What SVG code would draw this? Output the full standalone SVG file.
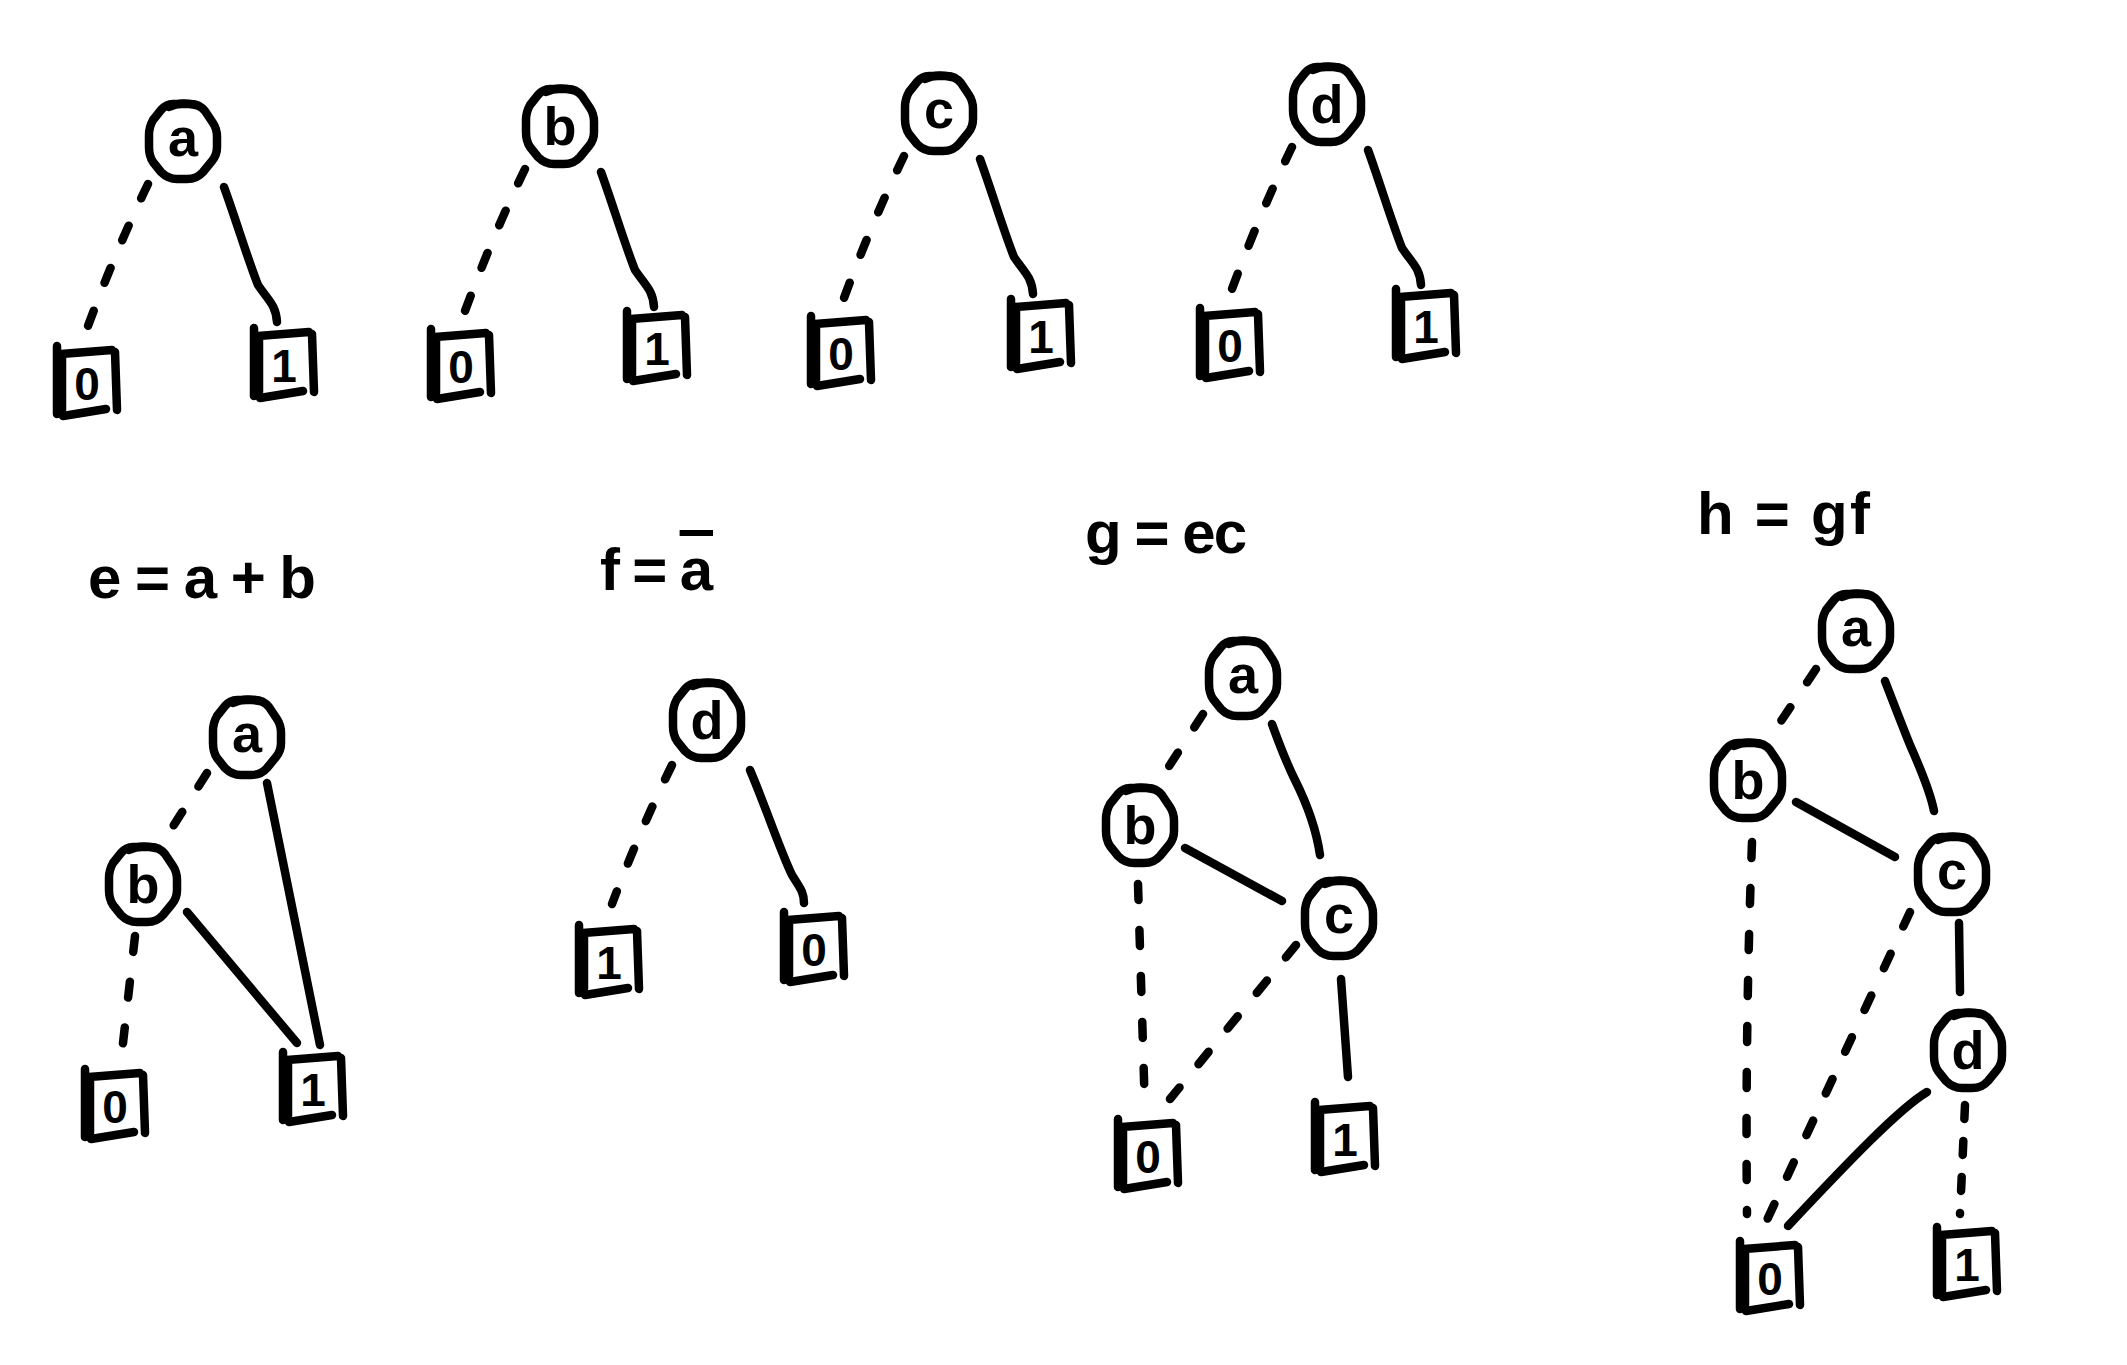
<svg xmlns="http://www.w3.org/2000/svg" xmlns:xlink="http://www.w3.org/1999/xlink" width="2127" height="1365" viewBox="0 0 2127 1365">
<style>
.ln{fill:none;stroke:#000;stroke-width:8.5;stroke-linecap:round;stroke-linejoin:round}
.dash{stroke-dasharray:16 30}
.dash2{stroke-dasharray:14 22}
.nodeShape{fill:#fff;stroke:#000;stroke-width:8.5;stroke-linecap:round;stroke-linejoin:round}
.boxShape{fill:none;stroke:#000;stroke-width:8.5;stroke-linecap:round;stroke-linejoin:round}
.var{font-family:"Liberation Sans",Arial,sans-serif;font-weight:bold;font-size:54px;fill:#000;text-anchor:middle}
.dig{font-family:"Liberation Sans",Arial,sans-serif;font-weight:bold;font-size:46px;fill:#000;text-anchor:middle}
.eq{font-family:"Liberation Sans",Arial,sans-serif;font-weight:bold;font-size:60px;fill:#000}
</style>
<defs>
<g id="oct">
<path class="nodeShape" d="M-10,-37 L8,-37 Q16,-37 22,-30 L30,-18 Q34,-12 34,-4 L34,6 Q34,14 29,20 L20,31 Q14,38 4,38 L-6,38 Q-15,38 -22,31 L-30,21 Q-34,15 -34,6 L-34,-6 Q-34,-14 -30,-21 L-22,-31 Q-17,-37 -10,-37 Z"/>
<path class="boxShape" d="M-14,-34 Q-2,-40 12,-36"/>
</g>
<path id="box" class="boxShape" d="M0,-6 L0,62 M4,2 L55,-2 M58,0 L60,58 M6,64 L49,57 M5,4 L5,58"/>
</defs>

<g id="connectors">
<!-- top row: a -->
<path class="ln dash" d="M148,184 Q116,250 88,326"/>
<path class="ln" d="M224,187 C236,220 248,260 258,285 C268,300 276,305 277,322"/>
<!-- top row: b -->
<path class="ln dash" d="M525,169 Q493,235 465,311"/>
<path class="ln" d="M601,172 C613,205 625,245 635,270 C645,285 653,290 654,307"/>
<!-- top row: c -->
<path class="ln dash" d="M904,156 Q872,222 844,298"/>
<path class="ln" d="M980,159 C992,192 1004,232 1014,257 C1024,272 1032,277 1033,294"/>
<!-- top row: d -->
<path class="ln dash" d="M1292,147 Q1260,213 1232,289"/>
<path class="ln" d="M1368,150 C1380,183 1392,223 1402,248 C1412,263 1420,268 1421,285"/>
<!-- e -->
<path class="ln dash" d="M207,773 L165,839"/>
<path class="ln" d="M267,783 L320,1045"/>
<path class="ln" d="M187,912 L297,1043"/>
<path class="ln dash" d="M135,936 L121,1061"/>
<!-- f -->
<path class="ln dash" d="M672,765 Q640,830 612,904"/>
<path class="ln" d="M750,770 C765,805 780,850 792,875 C800,888 804,892 804,903"/>
<!-- g -->
<path class="ln dash" d="M1203,714 L1162,777"/>
<path class="ln" d="M1272,724 Q1285,760 1295,780 Q1315,820 1320,855"/>
<path class="ln" d="M1185,848 L1282,901"/>
<path class="ln dash" d="M1138,884 L1145,1111"/>
<path class="ln dash" d="M1296,945 L1170,1099"/>
<path class="ln" d="M1341,979 L1348,1077"/>
<!-- h -->
<path class="ln dash" d="M1816,669 L1773,733"/>
<path class="ln" d="M1885,681 Q1900,720 1910,745 Q1930,790 1934,811"/>
<path class="ln" d="M1796,802 L1895,857"/>
<path class="ln dash" d="M1752,842 Q1745,1030 1747,1214"/>
<path class="ln dash" d="M1910,912 L1767,1220"/>
<path class="ln" d="M1959,923 L1960,992"/>
<path class="ln" d="M1927,1092 C1900,1108 1850,1160 1788,1226"/>
<path class="ln dash2" d="M1965,1105 L1960,1214"/>
</g>

<!-- top row nodes -->
<g id="t1-a" transform="translate(183,141)"><use xlink:href="#oct" href="#oct"/><text class="var" x="0" y="15">a</text></g>
<g id="t1-0" transform="translate(57,352)"><use xlink:href="#box" href="#box"/><text class="dig" x="30" y="48">0</text></g>
<g id="t1-1" transform="translate(254,334)"><use xlink:href="#box" href="#box"/><text class="dig" x="30" y="48">1</text></g>

<g id="t2-b" transform="translate(560,126)"><use xlink:href="#oct" href="#oct"/><text class="var" x="0" y="19">b</text></g>
<g id="t2-0" transform="translate(431,335)"><use xlink:href="#box" href="#box"/><text class="dig" x="30" y="48">0</text></g>
<g id="t2-1" transform="translate(627,317)"><use xlink:href="#box" href="#box"/><text class="dig" x="30" y="48">1</text></g>

<g id="t3-c" transform="translate(939,113)"><use xlink:href="#oct" href="#oct"/><text class="var" x="0" y="15">c</text></g>
<g id="t3-0" transform="translate(811,322)"><use xlink:href="#box" href="#box"/><text class="dig" x="30" y="48">0</text></g>
<g id="t3-1" transform="translate(1011,305)"><use xlink:href="#box" href="#box"/><text class="dig" x="30" y="48">1</text></g>

<g id="t4-d" transform="translate(1327,104)"><use xlink:href="#oct" href="#oct"/><text class="var" x="0" y="19">d</text></g>
<g id="t4-0" transform="translate(1200,314)"><use xlink:href="#box" href="#box"/><text class="dig" x="30" y="48">0</text></g>
<g id="t4-1" transform="translate(1396,295)"><use xlink:href="#box" href="#box"/><text class="dig" x="30" y="48">1</text></g>

<!-- labels -->
<g id="label-e"><text class="eq" x="88" y="598" textLength="228" lengthAdjust="spacing">e = a + b</text></g>
<g id="label-f"><text class="eq" x="600" y="590" textLength="113" lengthAdjust="spacing">f = <tspan text-decoration="overline">a</tspan></text></g>
<g id="label-g"><text class="eq" x="1085" y="553" textLength="162" lengthAdjust="spacing">g = ec</text></g>
<g id="label-h"><text class="eq" x="1697" y="534" textLength="173" lengthAdjust="spacing">h = gf</text></g>

<!-- e -->
<g id="e-a" transform="translate(247,737)"><use xlink:href="#oct" href="#oct"/><text class="var" x="0" y="15">a</text></g>
<g id="e-b" transform="translate(143,884)"><use xlink:href="#oct" href="#oct"/><text class="var" x="0" y="19">b</text></g>
<g id="e-0" transform="translate(85,1075)"><use xlink:href="#box" href="#box"/><text class="dig" x="30" y="48">0</text></g>
<g id="e-1" transform="translate(283,1058)"><use xlink:href="#box" href="#box"/><text class="dig" x="30" y="48">1</text></g>

<!-- f -->
<g id="f-d" transform="translate(707,720)"><use xlink:href="#oct" href="#oct"/><text class="var" x="0" y="19">d</text></g>
<g id="f-1" transform="translate(579,931)"><use xlink:href="#box" href="#box"/><text class="dig" x="30" y="48">1</text></g>
<g id="f-0" transform="translate(784,918)"><use xlink:href="#box" href="#box"/><text class="dig" x="30" y="48">0</text></g>

<!-- g -->
<g id="g-a" transform="translate(1243,678)"><use xlink:href="#oct" href="#oct"/><text class="var" x="0" y="15">a</text></g>
<g id="g-b" transform="translate(1140,825)"><use xlink:href="#oct" href="#oct"/><text class="var" x="0" y="19">b</text></g>
<g id="g-c" transform="translate(1339,918)"><use xlink:href="#oct" href="#oct"/><text class="var" x="0" y="15">c</text></g>
<g id="g-0" transform="translate(1118,1125)"><use xlink:href="#box" href="#box"/><text class="dig" x="30" y="48">0</text></g>
<g id="g-1" transform="translate(1315,1108)"><use xlink:href="#box" href="#box"/><text class="dig" x="30" y="48">1</text></g>

<!-- h -->
<g id="h-a" transform="translate(1856,631)"><use xlink:href="#oct" href="#oct"/><text class="var" x="0" y="15">a</text></g>
<g id="h-b" transform="translate(1748,780)"><use xlink:href="#oct" href="#oct"/><text class="var" x="0" y="19">b</text></g>
<g id="h-c" transform="translate(1952,874)"><use xlink:href="#oct" href="#oct"/><text class="var" x="0" y="15">c</text></g>
<g id="h-d" transform="translate(1968,1050)"><use xlink:href="#oct" href="#oct"/><text class="var" x="0" y="19">d</text></g>
<g id="h-0" transform="translate(1740,1247)"><use xlink:href="#box" href="#box"/><text class="dig" x="30" y="48">0</text></g>
<g id="h-1" transform="translate(1937,1233)"><use xlink:href="#box" href="#box"/><text class="dig" x="30" y="48">1</text></g>
</svg>
